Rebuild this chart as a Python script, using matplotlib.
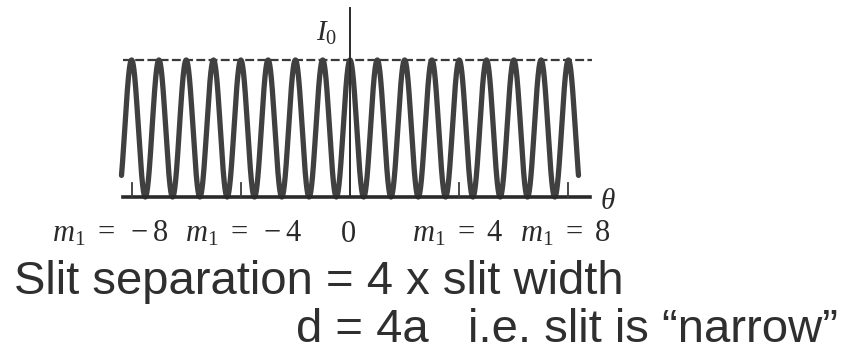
import numpy as np
import matplotlib
matplotlib.use("Agg")
import matplotlib.pyplot as plt

# Two-slit interference pattern, d = 4a
m_range = [-8.37, 8.37]          # plotted span in interference orders
peak_intensity = 1.0             # I0
marked_orders = [-8, -4, 4, 8]   # orders carrying short ticks on the axis
order_labels = [r"$m_1\ =\ -8$", r"$m_1\ =\ -4$", r"$0$", r"$m_1\ =\ 4$", r"$m_1\ =\ 8$"]
caption_1 = "Slit separation = 4 x slit width"
caption_2 = "d = 4a   i.e. slit is \u201cnarrow\u201d"

plt.rcParams["mathtext.fontset"] = "custom"
plt.rcParams["mathtext.rm"] = "Liberation Serif"
plt.rcParams["mathtext.it"] = "Liberation Serif:italic"

W, H = 843, 358
fig = plt.figure(figsize=(W / 100, H / 100), dpi=100)
ax = fig.add_axes([0, 0, 1, 1])
ax.set_axis_off()

# scale: 27.3 px per order, 137 px per unit intensity, origin at (350, 197) from top-left
px_per_m, px_per_I = 27.3, 137.0
x0, y0 = 350.0, 197.0
ax.set_xlim(-x0 / px_per_m, (W - x0) / px_per_m)
ax.set_ylim(-(H - y0) / px_per_I, y0 / px_per_I)

m = np.linspace(m_range[0], m_range[1], 4000)
intensity = peak_intensity * np.cos(np.pi * m) ** 2
ax.plot(m, intensity, color="#404040", lw=3.8, solid_capstyle="round", zorder=3)

# baseline (theta axis) and intensity axis
ax.plot([-8.32, 8.8], [0, 0], color="#2a2a2a", lw=2.6, zorder=4)
ax.plot([0, 0], [0, 1.38], color="#2a2a2a", lw=1.4, zorder=4)
# dashed level at I0
ax.plot([-8.32, 8.85], [peak_intensity] * 2, color="#3a3a3a", lw=1.6,
        ls=(0, (4, 1.5)), zorder=2)
# short ticks at marked orders
for mo in marked_orders:
    ax.plot([mo, mo], [0, 0.1], color="#3a3a3a", lw=1.3, zorder=4)

ax.text(-0.85, 1.2, "$I_0$", fontsize=21, color="#2a2a2a", ha="center", va="center")
ax.text(9.45, -0.03, r"$\theta$", fontsize=21, color="#2a2a2a", ha="center", va="center")

# arrow to the right
ax.annotate("", xy=((W + 4 - x0) / px_per_m, 0.504), xytext=((712 - x0) / px_per_m, 0.504),
            arrowprops=dict(arrowstyle="-|>", color="#2a2a2a", lw=1.6,
                            mutation_scale=16, shrinkA=0, shrinkB=0))

# order labels below the axis
label_x = [52, 185, 340, 412, 520]
for lx, lab in zip(label_x, order_labels):
    fig.text(lx / W, 1 - 233 / H, lab, fontsize=22, color="#2a2a2a",
             ha="left", va="center")

fig.text(14 / W, 1 - 282 / H, caption_1, fontsize=34, color="#2f2f2f",
         family="Liberation Sans", ha="left", va="center")
fig.text(838 / W, 1 - 330 / H, caption_2, fontsize=34, color="#2f2f2f",
         family="Liberation Sans", ha="right", va="center")

fig.savefig("out.png", dpi=100, facecolor="white")
